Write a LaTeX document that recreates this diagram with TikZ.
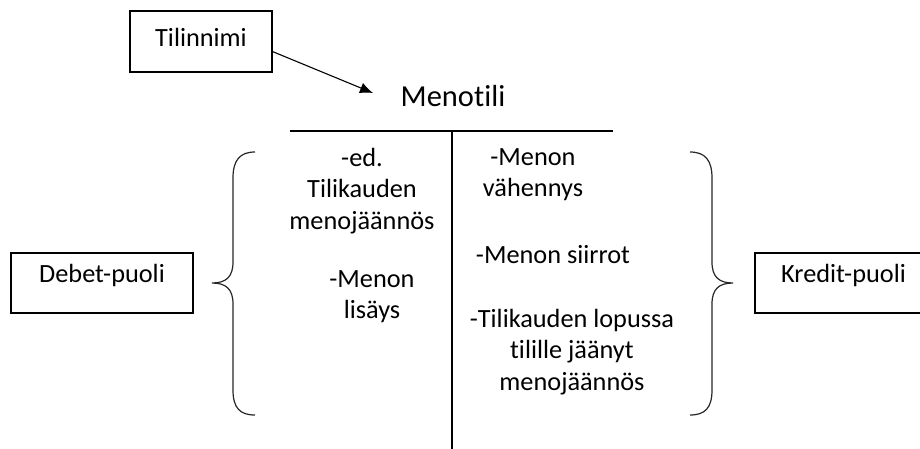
\documentclass[tikz,border=0pt]{standalone}
\usepackage{fontspec}
\setmainfont{Carlito}[Ligatures=NoCommon]
\usetikzlibrary{arrows.meta}
\tikzset{
  box/.style={draw=black, line width=1.1pt, inner sep=0pt, font=\fontsize{26.3}{31.5}\selectfont},
  txt/.style={inner sep=0pt, align=center, anchor=base, font=\fontsize{26.3}{31.5}\selectfont},
  rule/.style={draw=black, line width=1.2pt},
  brace/.style={draw=black!85, line width=1.2pt},
  conn/.style={draw=black, line width=1.1pt, -{Latex[length=13pt,width=11pt]}}
}
\begin{document}
\begin{tikzpicture}[x=1pt,y=-1pt]
\useasboundingbox (0,0) rectangle (920,448);
% name box
\node[box, minimum width=142pt, minimum height=61pt, text height=14pt, text depth=4pt] (tn) at (201,41.5) {Tilinnimi};
\coordinate (mt) at (373,93);
\draw[conn] (tn.-8.4) -- (mt);
\node[inner sep=0pt, anchor=base, font=\fontsize{30.5}{36}\selectfont] (title) at (453,106) {Menotili};
% T-account
\coordinate (hl) at (290,131);
\coordinate (hr) at (613,131);
\coordinate (vt) at (452,131);
\coordinate (vb) at (452,450);
\draw[rule] (hl) -- (hr);
\draw[rule] (vt) -- (vb);
% left column (base anchor = baseline of last line)
\node[txt] (l1) at (362,229) {-ed.\\Tilikauden\\menojäännös};
\node[txt] (l2) at (372,318.5) {-Menon\\lisäys};
% right column
\node[txt] (r1) at (533,196.5) {-Menon\\vähennys};
\node[txt] (r2) at (553,263) {-Menon siirrot};
\node[txt] (r3) at (572,390) {-Tilikauden lopussa\\tilille jäänyt\\menojäännös};
% side boxes
\node[box, minimum width=182pt, minimum height=60pt, text height=8pt, text depth=10pt] (deb) at (102,283) {Debet-puoli};
\node[box, minimum width=177pt, minimum height=60pt, text height=8pt, text depth=10pt] (kre) at (843.5,283) {Kredit-puoli};
% braces
\draw[brace] (255,152) .. controls (240,152) and (233,160) .. (233,178) -- (233,262)
  .. controls (233,277) and (226,283) .. (212,283)
  .. controls (226,283) and (233,289) .. (233,304) -- (233,390)
  .. controls (233,408) and (240,415) .. (255,415);
\draw[brace] (690,152) .. controls (705,152) and (712,160) .. (712,178) -- (712,262)
  .. controls (712,277) and (719,283) .. (733,283)
  .. controls (719,283) and (712,289) .. (712,304) -- (712,390)
  .. controls (712,408) and (705,415) .. (690,415);
\end{tikzpicture}
\end{document}
